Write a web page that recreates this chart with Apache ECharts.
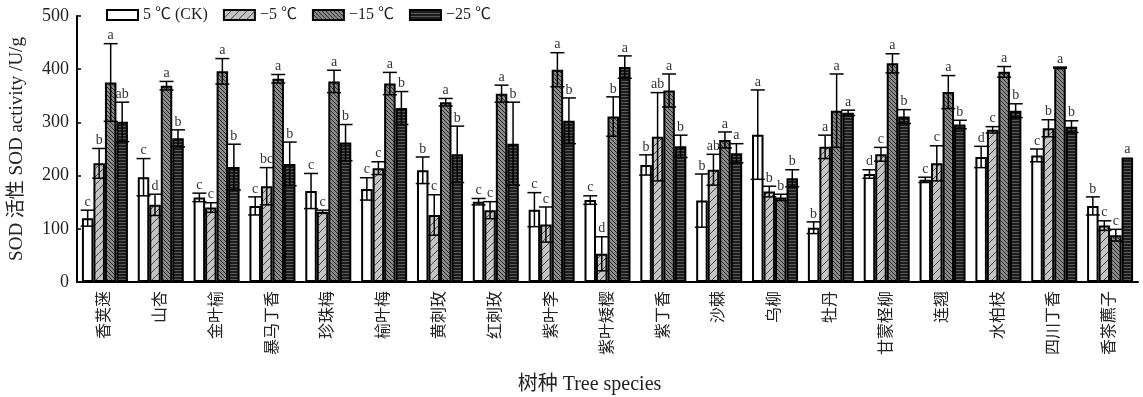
<!DOCTYPE html>
<html>
<head>
<meta charset="utf-8">
<script src="https://cdn.jsdelivr.net/npm/echarts@6/dist/echarts.min.js"></script>
<style>
    html, body { margin: 0; padding: 0; background: #fff; }
    #chart { width: 1143px; height: 397px; }
</style>
</head>
<body>
<div id="chart"></div>
<script>
    // 树种
    var species = ['香荚蒾', '山杏', '金叶榆', '暴马丁香', '珍珠梅', '榆叶梅', '黄刺玫', '红刺玫', '紫叶李', '紫叶矮樱',
        '紫丁香', '沙棘', '乌柳', '牡丹', '甘蒙柽柳', '连翘', '水柏枝', '四川丁香', '香茶藨子'];
    var seriesNames = ['5 ℃ (CK)', '−5 ℃', '−15 ℃', '−25 ℃'];

    // 5 ℃(CK)
    var ck = [120, 197, 159, 143, 171, 175, 210, 151, 136, 154, 220, 153, 277, 102, 203, 192, 235, 238, 143];
    var ckErr = [15, 35, 8, 17, 33, 21, 25, 6, 32, 8, 19, 50, 84, 11, 8, 5, 20, 12, 17];
    var ckSig = ['c', 'c', 'c', 'c', 'c', 'c', 'b', 'c', 'c', 'c', 'b', 'b', 'a', 'b', 'd', 'c', 'd', 'c', 'b'];
    // -5 ℃
    var m5 = [223, 145, 140, 180, 132, 214, 126, 135, 108, 53, 273, 211, 170, 254, 240, 223, 286, 289, 106];
    var m5Err = [28, 20, 9, 35, 3, 12, 38, 16, 33, 32, 83, 29, 10, 22, 13, 33, 6, 16, 9];
    var m5Sig = ['b', 'd', 'c', 'bc', 'c', 'c', 'c', 'c', 'c', 'd', 'ab', 'ab', 'b', 'a', 'c', 'c', 'c', 'b', 'c'];
    // -15 ℃
    var m15 = [375, 369, 396, 382, 377, 373, 338, 354, 399, 311, 360, 267, 159, 322, 411, 357, 395, 403, 88];
    var m15Err = [73, 8, 24, 8, 21, 21, 7, 16, 32, 37, 31, 15, 6, 69, 18, 31, 10, 1, 11];
    var m15Sig = ['a', 'a', 'a', 'a', 'a', 'a', 'a', 'a', 'a', 'b', 'a', 'a', 'b', 'a', 'a', 'a', 'a', 'a', 'c'];
    // -25 ℃
    var m25 = [301, 270, 216, 222, 262, 327, 240, 260, 303, 404, 255, 242, 195, 318, 311, 296, 322, 292, 234];
    var m25Err = [37, 16, 43, 41, 34, 31, 53, 78, 43, 21, 21, 18, 16, 5, 13, 8, 13, 11, 0];
    var m25Sig = ['ab', 'b', 'b', 'b', 'b', 'b', 'b', 'b', 'b', 'a', 'b', 'a', 'b', 'a', 'b', 'b', 'b', 'b', 'a'];

    var BAR_W = 11.5;
    var SERIF = '"Liberation Serif", "Noto Sans CJK SC", serif';

    // 填充图案
    function makePattern(size, bg, draw) {
        var c = document.createElement('canvas');
        c.width = size;
        c.height = size;
        var ctx = c.getContext('2d');
        ctx.fillStyle = bg;
        ctx.fillRect(0, 0, size, size);
        draw(ctx, size);
        return { image: c, repeat: 'repeat' };
    }

    var fills = [
        '#ffffff',
        makePattern(8, '#c4c4c4', function (ctx, s) {
            ctx.strokeStyle = '#444';
            ctx.lineWidth = 1;
            ctx.beginPath();
            ctx.moveTo(0, s); ctx.lineTo(s, 0);
            ctx.moveTo(-1, 1); ctx.lineTo(1, -1);
            ctx.moveTo(s - 1, s + 1); ctx.lineTo(s + 1, s - 1);
            ctx.stroke();
        }),
        makePattern(4, '#8a8a8a', function (ctx, s) {
            ctx.strokeStyle = '#2a2a2a';
            ctx.lineWidth = 1;
            ctx.beginPath();
            ctx.moveTo(0, 0); ctx.lineTo(s, s);
            ctx.moveTo(s - 1, -1); ctx.lineTo(s + 1, 1);
            ctx.moveTo(-1, s - 1); ctx.lineTo(1, s + 1);
            ctx.stroke();
        }),
        makePattern(3, '#1c1c1c', function (ctx, s) {
            ctx.fillStyle = '#5a5a5a';
            ctx.fillRect(0, 0, s, 1);
        })
    ];

    var values = [ck, m5, m15, m25];
    var errs = [ckErr, m5Err, m15Err, m25Err];
    var sigs = [ckSig, m5Sig, m15Sig, m25Sig];

    var series = [];
    values.forEach(function (vals, k) {
        series.push({
            name: seriesNames[k],
            type: 'bar',
            data: vals,
            barWidth: BAR_W,
            barGap: '0%',
            itemStyle: { color: fills[k], borderColor: '#000', borderWidth: 2 }
        });
    });

    // 误差线和显著性字母
    values.forEach(function (vals, k) {
        series.push({
            type: 'custom',
            silent: true,
            z: 5,
            data: vals.map(function (v, i) { return [i, v, errs[k][i]]; }),
            encode: { x: 0, y: 1 },
            renderItem: function (params, api) {
                var i = api.value(0), v = api.value(1), e = api.value(2);
                var x = api.coord([i, v])[0] + (k - 1.5) * BAR_W;
                var yt = api.coord([i, v + e])[1];
                var yb = api.coord([i, v - e])[1];
                var cap = 7;
                var ls = { stroke: '#000', lineWidth: 1.5 };
                var children = [];
                if (e > 0) {
                    children.push({ type: 'line', shape: { x1: x, y1: yt, x2: x, y2: yb }, style: ls });
                    children.push({ type: 'line', shape: { x1: x - cap, y1: yt, x2: x + cap, y2: yt }, style: ls });
                    children.push({ type: 'line', shape: { x1: x - cap, y1: yb, x2: x + cap, y2: yb }, style: ls });
                }
                children.push({
                    type: 'text',
                    style: {
                        text: sigs[k][params.dataIndex], x: x, y: yt - 1,
                        align: 'center', verticalAlign: 'bottom',
                        font: '14px ' + SERIF, fill: '#333'
                    }
                });
                return { type: 'group', children: children };
            }
        });
    });

    var myChart = echarts.init(document.getElementById('chart'));
    var option = {
        animation: false,
        textStyle: { fontFamily: SERIF },
        legend: {
            data: seriesNames,
            left: 101,
            top: 2,
            itemWidth: 31,
            itemHeight: 10,
            itemGap: 15,
            icon: 'rect',
            textStyle: { fontSize: 16, color: '#222', fontFamily: SERIF }
        },
        grid: { left: 77, right: 5, top: 16, bottom: 115, containLabel: false, outerBoundsMode: 'none' },
        xAxis: {
            type: 'category',
            data: species,
            name: '树种 Tree species',
            nameLocation: 'middle',
            nameGap: 93,
            nameTextStyle: { fontSize: 20, color: '#222', fontFamily: SERIF, padding: [0, 36, 0, 0] },
            axisLine: { lineStyle: { color: '#000', width: 2 } },
            axisTick: { show: false },
            axisLabel: { rotate: 90, interval: 0, margin: 9, fontSize: 16, color: '#222', fontFamily: SERIF }
        },
        yAxis: {
            type: 'value',
            min: 0,
            max: 500,
            interval: 100,
            name: 'SOD 活性 SOD activity /U/g',
            nameLocation: 'middle',
            nameRotate: 90,
            nameGap: 50,
            nameTextStyle: { fontSize: 19, color: '#222', fontFamily: SERIF },
            axisLine: { show: true, lineStyle: { color: '#000', width: 2 } },
            axisTick: { show: true, inside: true, length: 4, lineStyle: { color: '#000', width: 1.5 } },
            axisLabel: { fontSize: 18, color: '#222', margin: 8, fontFamily: SERIF },
            splitLine: { show: false }
        },
        series: series
    };
    myChart.setOption(option);
</script>
</body>
</html>
